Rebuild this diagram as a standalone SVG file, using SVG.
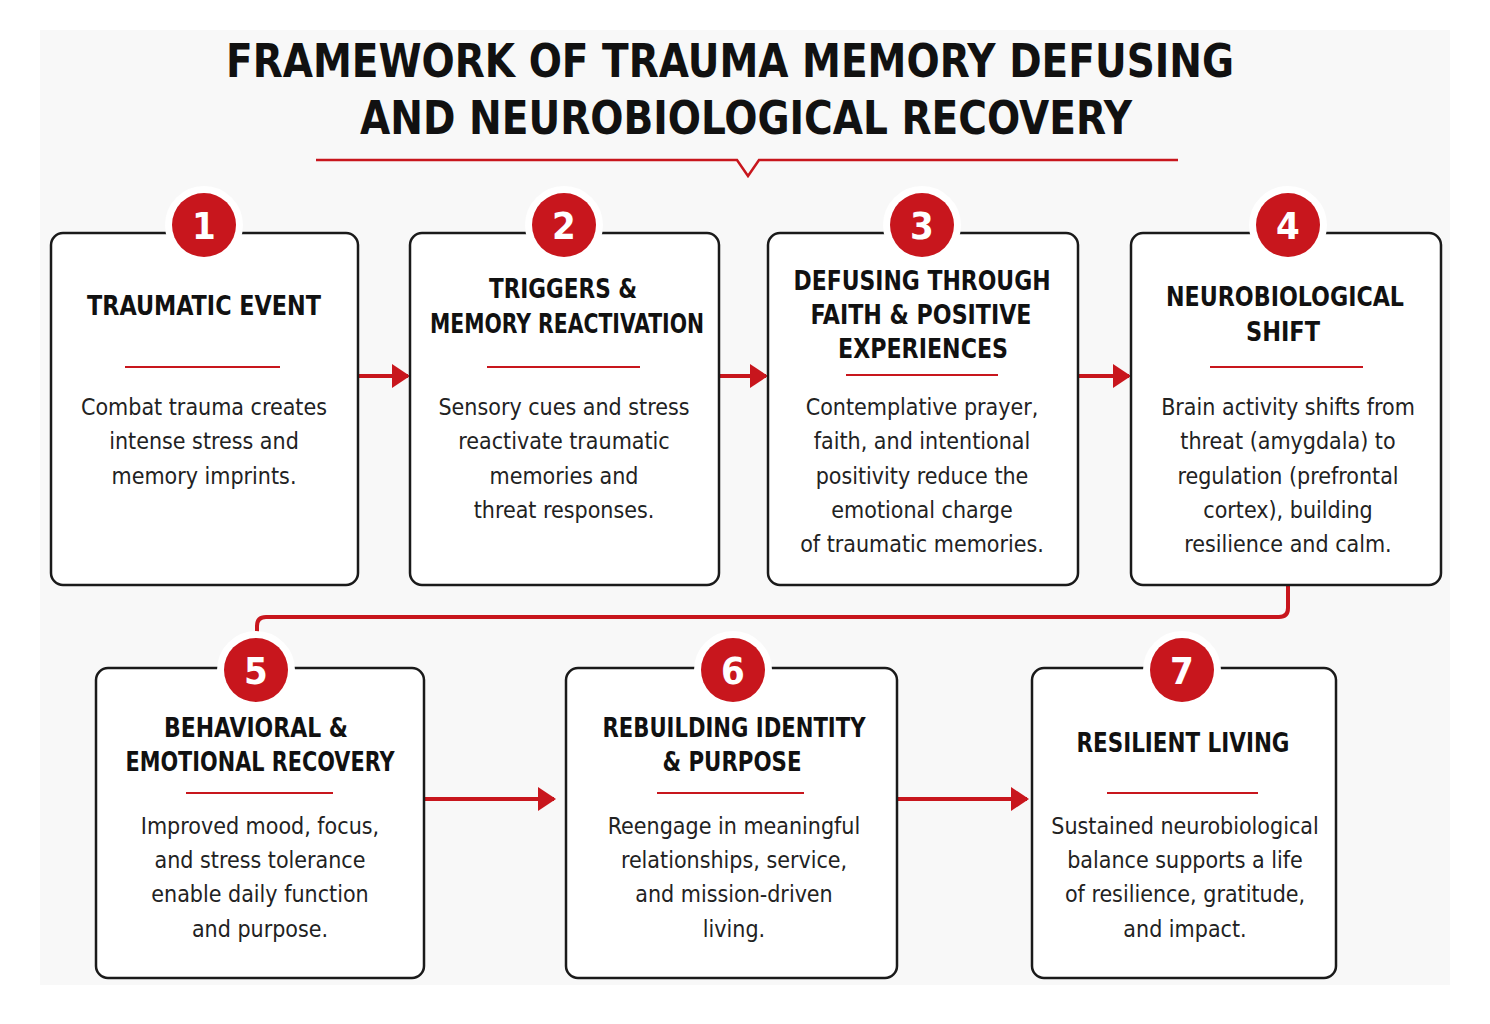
<svg xmlns="http://www.w3.org/2000/svg" width="1490" height="1024" viewBox="0 0 1490 1024">
<defs>
<style>
.box{fill:#fff;stroke:#1a1a1a;stroke-width:2.5}
.ring{fill:none;stroke:#fff;stroke-width:12}
.badge{fill:#c8161d}
.num{font-family:"DejaVu Sans Condensed","DejaVu Sans",sans-serif;font-weight:bold;font-size:38px;fill:#fff;text-anchor:middle}
.h{font-family:"DejaVu Sans Condensed","DejaVu Sans",sans-serif;font-weight:bold;font-size:27px;fill:#111;text-anchor:middle}
.b{font-family:"DejaVu Sans Condensed","DejaVu Sans",sans-serif;font-size:23px;fill:#222;text-anchor:middle}
.t{font-family:"DejaVu Sans Condensed","DejaVu Sans",sans-serif;font-weight:bold;font-size:46px;fill:#111;text-anchor:middle}
.rule{stroke:#c8161d;stroke-width:2}
.conn{stroke:#c8161d;stroke-width:4;fill:none}
</style>
<marker id="ah2" markerWidth="18" markerHeight="24" refX="16" refY="12" orient="auto" markerUnits="userSpaceOnUse"><path d="M0,0 L18,12 L0,24 Z" fill="#c8161d"/></marker>
</defs>
<rect width="1490" height="1024" fill="#fff"/>
<rect x="40" y="30" width="1410" height="955" fill="#f8f8f8"/>
<g id="title">
<text class="t" x="730" y="77" textLength="1008" lengthAdjust="spacingAndGlyphs">FRAMEWORK OF TRAUMA MEMORY DEFUSING</text>
<text class="t" x="746" y="134" textLength="772" lengthAdjust="spacingAndGlyphs">AND NEUROBIOLOGICAL RECOVERY</text>
<path d="M316,160 H737 L748,176 L759,160 H1178" fill="none" stroke="#c8161d" stroke-width="2.5"/>
</g>
<g id="connectors">
<path class="conn" d="M358,376 H408" marker-end="url(#ah2)"/>
<path class="conn" d="M719,376 H766" marker-end="url(#ah2)"/>
<path class="conn" d="M1078,376 H1129" marker-end="url(#ah2)"/>
<path class="conn" d="M1288,585 V608 Q1288,617 1279,617 H266 Q257,617 257,626 V640"/>
<path class="conn" d="M424,799 H554" marker-end="url(#ah2)"/>
<path class="conn" d="M897,799 H1027" marker-end="url(#ah2)"/>
</g>
<g id="n1">
<rect class="box" x="51" y="233" width="307" height="352" rx="12"/>
<circle class="ring" cx="204" cy="225" r="33"/><circle class="badge" cx="204" cy="225" r="32"/>
<text class="num" x="204" y="239">1</text>
<text class="h" x="204" y="315" textLength="234" lengthAdjust="spacingAndGlyphs">TRAUMATIC EVENT</text>
<line class="rule" x1="125" y1="367" x2="280" y2="367"/>
<text class="b" x="204" y="415">Combat trauma creates</text>
<text class="b" x="204" y="449">intense stress and</text>
<text class="b" x="204" y="484">memory imprints.</text>
</g>
<g id="n2">
<rect class="box" x="410" y="233" width="309" height="352" rx="12"/>
<circle class="ring" cx="564" cy="225" r="33"/><circle class="badge" cx="564" cy="225" r="32"/>
<text class="num" x="564" y="239">2</text>
<text class="h" x="563" y="298" textLength="148" lengthAdjust="spacingAndGlyphs">TRIGGERS &amp;</text>
<text class="h" x="567" y="333" textLength="274" lengthAdjust="spacingAndGlyphs">MEMORY REACTIVATION</text>
<line class="rule" x1="487" y1="367" x2="640" y2="367"/>
<text class="b" x="564" y="415">Sensory cues and stress</text>
<text class="b" x="564" y="449">reactivate traumatic</text>
<text class="b" x="564" y="484">memories and</text>
<text class="b" x="564" y="518">threat responses.</text>
</g>
<g id="n3">
<rect class="box" x="768" y="233" width="310" height="352" rx="12"/>
<circle class="ring" cx="922" cy="225" r="33"/><circle class="badge" cx="922" cy="225" r="32"/>
<text class="num" x="922" y="239">3</text>
<text class="h" x="922" y="290" textLength="257" lengthAdjust="spacingAndGlyphs">DEFUSING THROUGH</text>
<text class="h" x="921" y="324" textLength="221" lengthAdjust="spacingAndGlyphs">FAITH &amp; POSITIVE</text>
<text class="h" x="923" y="358" textLength="170" lengthAdjust="spacingAndGlyphs">EXPERIENCES</text>
<line class="rule" x1="846" y1="375" x2="998" y2="375"/>
<text class="b" x="922" y="415">Contemplative prayer,</text>
<text class="b" x="922" y="449">faith, and intentional</text>
<text class="b" x="922" y="484">positivity reduce the</text>
<text class="b" x="922" y="518">emotional charge</text>
<text class="b" x="922" y="552">of traumatic memories.</text>
</g>
<g id="n4">
<rect class="box" x="1131" y="233" width="310" height="352" rx="12"/>
<circle class="ring" cx="1288" cy="225" r="33"/><circle class="badge" cx="1288" cy="225" r="32"/>
<text class="num" x="1288" y="239">4</text>
<text class="h" x="1285" y="306" textLength="238" lengthAdjust="spacingAndGlyphs">NEUROBIOLOGICAL</text>
<text class="h" x="1283" y="341" textLength="74" lengthAdjust="spacingAndGlyphs">SHIFT</text>
<line class="rule" x1="1210" y1="367" x2="1363" y2="367"/>
<text class="b" x="1288" y="415">Brain activity shifts from</text>
<text class="b" x="1288" y="449">threat (amygdala) to</text>
<text class="b" x="1288" y="484">regulation (prefrontal</text>
<text class="b" x="1288" y="518">cortex), building</text>
<text class="b" x="1288" y="552">resilience and calm.</text>
</g>
<g id="n5">
<rect class="box" x="96" y="668" width="328" height="310" rx="12"/>
<circle class="ring" cx="256" cy="670" r="33"/><circle class="badge" cx="256" cy="670" r="32"/>
<text class="num" x="256" y="684">5</text>
<text class="h" x="256" y="737" textLength="184" lengthAdjust="spacingAndGlyphs">BEHAVIORAL &amp;</text>
<text class="h" x="260" y="771" textLength="269" lengthAdjust="spacingAndGlyphs">EMOTIONAL RECOVERY</text>
<line class="rule" x1="186" y1="793" x2="333" y2="793"/>
<text class="b" x="260" y="834">Improved mood, focus,</text>
<text class="b" x="260" y="868">and stress tolerance</text>
<text class="b" x="260" y="902">enable daily function</text>
<text class="b" x="260" y="937">and purpose.</text>
</g>
<g id="n6">
<rect class="box" x="566" y="668" width="331" height="310" rx="12"/>
<circle class="ring" cx="733" cy="670" r="33"/><circle class="badge" cx="733" cy="670" r="32"/>
<text class="num" x="733" y="684">6</text>
<text class="h" x="734" y="737" textLength="263" lengthAdjust="spacingAndGlyphs">REBUILDING IDENTITY</text>
<text class="h" x="732" y="771" textLength="139" lengthAdjust="spacingAndGlyphs">&amp; PURPOSE</text>
<line class="rule" x1="657" y1="793" x2="804" y2="793"/>
<text class="b" x="734" y="834">Reengage in meaningful</text>
<text class="b" x="734" y="868">relationships, service,</text>
<text class="b" x="734" y="902">and mission-driven</text>
<text class="b" x="734" y="937">living.</text>
</g>
<g id="n7">
<rect class="box" x="1032" y="668" width="304" height="310" rx="12"/>
<circle class="ring" cx="1182" cy="670" r="33"/><circle class="badge" cx="1182" cy="670" r="32"/>
<text class="num" x="1182" y="684">7</text>
<text class="h" x="1183" y="752" textLength="213" lengthAdjust="spacingAndGlyphs">RESILIENT LIVING</text>
<line class="rule" x1="1107" y1="793" x2="1258" y2="793"/>
<text class="b" x="1185" y="834">Sustained neurobiological</text>
<text class="b" x="1185" y="868">balance supports a life</text>
<text class="b" x="1185" y="902">of resilience, gratitude,</text>
<text class="b" x="1185" y="937">and impact.</text>
</g>
</svg>
